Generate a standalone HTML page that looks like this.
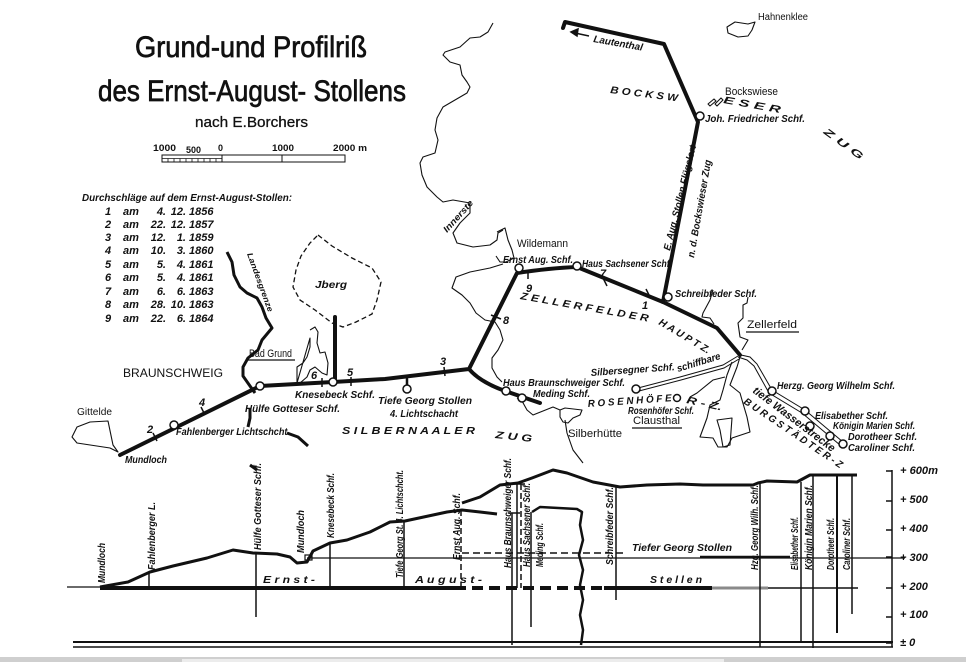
<!DOCTYPE html>
<html><head><meta charset="utf-8"><style>
html,body{margin:0;padding:0;background:#fff;}
svg{display:block;}
text{font-family:"Liberation Sans",sans-serif;fill:#111;}
.i{font-style:italic;font-weight:bold;font-size:10px;}
.u{font-size:11px;}
.t{font-size:30px;stroke:#111;stroke-width:0.7px;}
.l{font-style:italic;font-weight:bold;font-size:11px;}
</style></head><body>
<svg width="966" height="662" viewBox="0 0 966 662" xmlns="http://www.w3.org/2000/svg">
<rect width="966" height="662" fill="#fff"/>
<rect x="0" y="657" width="966" height="5" fill="#cfcfcf"/>
<rect x="182" y="659" width="542" height="3" fill="#ececec"/>

<!-- Title -->
<text class="t" x="135" y="57" textLength="232" lengthAdjust="spacingAndGlyphs">Grund-und Profilriß</text>
<text class="t" x="98" y="101" textLength="308" lengthAdjust="spacingAndGlyphs">des Ernst-August- Stollens</text>
<text x="195" y="127" font-size="15" stroke="#111" stroke-width="0.3" textLength="113" lengthAdjust="spacingAndGlyphs">nach E.Borchers</text>

<!-- scale -->
<g font-size="9" font-weight="bold">
<text x="153" y="151" textLength="23" lengthAdjust="spacingAndGlyphs">1000</text>
<text x="186" y="153" textLength="15" lengthAdjust="spacingAndGlyphs">500</text>
<text x="218" y="151">0</text>
<text x="272" y="151" textLength="22" lengthAdjust="spacingAndGlyphs">1000</text>
<text x="333" y="151" textLength="34" lengthAdjust="spacingAndGlyphs">2000 m</text>
</g>
<g stroke="#111" fill="none">
<rect x="162" y="155" width="183" height="7" stroke-width="1"/>
<line x1="222" y1="155" x2="222" y2="162"/>
<line x1="282" y1="155" x2="282" y2="162"/>
<line x1="162" y1="158.5" x2="222" y2="158.5" stroke-width="0.8"/>
<path d="M168,158.5V162M174,158.5V162M180,158.5V162M186,158.5V162M192,158.5V162M198,158.5V162M204,158.5V162M210,158.5V162M216,158.5V162" stroke-width="0.8"/>
</g>

<!-- legend -->
<text class="i" x="82" y="201" textLength="210" lengthAdjust="spacingAndGlyphs">Durchschläge auf dem Ernst-August-Stollen:</text>
<g class="l">
<text x="105" y="215">1</text><text x="123" y="215">am</text><text x="166" y="215" text-anchor="end">4.</text><text x="186" y="215" text-anchor="end">12.</text><text x="189" y="215">1856</text>
<text x="105" y="228">2</text><text x="123" y="228">am</text><text x="166" y="228" text-anchor="end">22.</text><text x="186" y="228" text-anchor="end">12.</text><text x="189" y="228">1857</text>
<text x="105" y="241">3</text><text x="123" y="241">am</text><text x="166" y="241" text-anchor="end">12.</text><text x="186" y="241" text-anchor="end">1.</text><text x="189" y="241">1859</text>
<text x="105" y="254">4</text><text x="123" y="254">am</text><text x="166" y="254" text-anchor="end">10.</text><text x="186" y="254" text-anchor="end">3.</text><text x="189" y="254">1860</text>
<text x="105" y="268">5</text><text x="123" y="268">am</text><text x="166" y="268" text-anchor="end">5.</text><text x="186" y="268" text-anchor="end">4.</text><text x="189" y="268">1861</text>
<text x="105" y="281">6</text><text x="123" y="281">am</text><text x="166" y="281" text-anchor="end">5.</text><text x="186" y="281" text-anchor="end">4.</text><text x="189" y="281">1861</text>
<text x="105" y="295">7</text><text x="123" y="295">am</text><text x="166" y="295" text-anchor="end">6.</text><text x="186" y="295" text-anchor="end">6.</text><text x="189" y="295">1863</text>
<text x="105" y="308">8</text><text x="123" y="308">am</text><text x="166" y="308" text-anchor="end">28.</text><text x="186" y="308" text-anchor="end">10.</text><text x="189" y="308">1863</text>
<text x="105" y="322">9</text><text x="123" y="322">am</text><text x="166" y="322" text-anchor="end">22.</text><text x="186" y="322" text-anchor="end">6.</text><text x="189" y="322">1864</text>
</g>

<!-- ===== MAP ===== -->
<g fill="none" stroke="#111" stroke-width="1.1" stroke-linejoin="round">
<path d="M72,437 L77,427 L90,422 L108,421 L113,445 L118,452 L110,448 L77,443 Z"/>
<path d="M727,27 L735,22 L748,24 L755,22 L752,30 L748,36 L738,37 L728,33 Z"/>
<path d="M310,330 L315,327 L318,332 L317,343 L320,353 L325,352 L328,363 L327,375 L322,373 L315,367 L310,370 L307,377 L300,383 M297,383 L297,367 L303,363 L307,357 L310,347 L310,338 Z"/>
<path d="M493,23 L488,32 L480,37 L470,38 L460,47 L445,52 L443,55 L450,62 L460,65 L462,75 L467,82 L470,87 L467,93 L455,100 L443,107 L437,118 L435,130 L438,140 L435,153 L423,157 L420,163 L422,175 L427,187 L437,197 L443,202 L453,200 L470,203 L470,213 L460,223 L453,233 L457,243 L473,247 L490,245 L497,240 L498,233 L503,230"/>
<path d="M497,232 L505,228 L508,240 L512,250 L514,258 L506,262 L500,262 L496,256"/>
<path d="M503,264 L490,268 L470,272 L456,277 L452,288 L462,295 L470,303 L476,313 L485,320 L495,322 L500,330 L503,340 L498,350 L492,358 L492,368 L497,377 L502,382"/>
<path d="M517,398 L522,401 L527,410 L533,415 L553,407 L560,410"/>
<path d="M560,410 L565,408 L582,410 L580,415 L573,418 L568,423 L563,422 L560,417 Z"/>
<path d="M565,420 L567,433 L573,450 L583,463"/>
<path d="M713,290 L710,300 L703,313 L702,317 L710,318 L714,324"/>
<path d="M748,297 L747,303 L743,305 L743,318 L738,323 L740,337 L748,340 L742,350"/>
<path d="M740,357 L737,367 L730,385 L740,393 L742,400 L747,417 L750,432 L732,438 L727,447 L718,447 L713,438 L700,437 L707,418 L710,405 L720,400 L723,390 L727,375 L732,362"/>
<path d="M717,420 L732,418 L730,445 L723,447 L720,430 Z"/>
<path d="M725,377 L713,380 L697,393 L690,397"/>
<path d="M708,104 L714,99 L716,101 L710,106 Z M715,104 L721,98 L723,100 L717,106 Z"/>
</g>

<path d="M318,235 L332,246 L352,258 L372,268 L381,282 L377,300 L372,314 L356,322 L343,327 L332,323 L315,310 L300,300 L293,287 L296,270 L301,256 L310,243 Z" fill="none" stroke="#111" stroke-width="1.3" stroke-dasharray="5,3"/>

<g fill="none" stroke="#111" stroke-width="3" stroke-linejoin="round">
<path d="M227,252 L232,262 L234,275 L240,287 L247,293 L257,298 L262,307 L266,318 L272,328 L262,340 L258,350 L248,358 L243,367 L243,376 L250,386 L255,393"/>
<path d="M250,408 L250,418 L248,427"/>
<path d="M287,433 L298,437 L308,446"/>
<path d="M250,465 L257,470"/>
</g>

<g fill="none" stroke="#111" stroke-width="1">
<path d="M638,388 L680,377 L723,365 L738,356"/>
<path d="M639,391 L681,380 L724,368 L739,359"/>
<path d="M741,355 L750,357 L757,364 L772,390 L805,410 L843,442"/>
<path d="M738,357 L747,360 L754,366 L769,393 L802,413 L840,445"/>
</g>

<g fill="none" stroke="#111" stroke-width="4" stroke-linejoin="round" stroke-linecap="round">
<path d="M120,455 L260,386 L333,382 L385,379 L469,369 L517,273 Q550,268 577,267 L663,302 L717,328 L740,355"/>
<path d="M663,302 L698,122 L664,44 L565,22 L563,28"/>
<path d="M469,369 Q480,382 505,391 L540,403"/>
<path d="M335,317 L335,382"/>
<path d="M407,379 L407,385" stroke-width="2.5"/>
</g>
<g stroke="#111" stroke-width="1.5">
<line x1="153" y1="433" x2="157" y2="441"/>
<line x1="201" y1="407" x2="205" y2="415"/>
<line x1="322" y1="378" x2="322" y2="387"/>
<line x1="351" y1="377" x2="351" y2="386"/>
<line x1="444" y1="367" x2="445" y2="376"/>
<line x1="491" y1="315" x2="501" y2="319"/>
<line x1="528" y1="270" x2="528" y2="279"/>
<line x1="603" y1="278" x2="607" y2="286"/>
<line x1="646" y1="289" x2="650" y2="297"/>
</g>
<g class="l">
<text x="147" y="433">2</text><text x="199" y="406">4</text><text x="311" y="379">6</text><text x="347" y="376">5</text>
<text x="440" y="365">3</text><text x="503" y="324">8</text><text x="526" y="292">9</text><text x="600" y="277">7</text><text x="642" y="309">1</text>
</g>
<g fill="#fff" stroke="#111" stroke-width="1.5">
<circle cx="174" cy="425" r="4"/><circle cx="260" cy="386" r="4"/><circle cx="333" cy="382" r="4"/>
<circle cx="407" cy="389" r="4"/><circle cx="519" cy="268" r="4"/><circle cx="577" cy="266" r="4"/>
<circle cx="668" cy="297" r="4"/><circle cx="700" cy="116" r="4"/><circle cx="506" cy="391" r="4"/>
<circle cx="522" cy="398" r="4"/><circle cx="636" cy="389" r="4"/><circle cx="677" cy="398" r="3.5"/>
<circle cx="772" cy="391" r="4"/><circle cx="805" cy="411" r="4"/><circle cx="810" cy="426" r="4"/>
<circle cx="830" cy="436" r="4"/><circle cx="843" cy="444" r="4"/>
</g>

<g class="u">
<text x="123" y="377" font-size="12" textLength="100" lengthAdjust="spacingAndGlyphs">BRAUNSCHWEIG</text>
<text x="249" y="357" textLength="43" lengthAdjust="spacingAndGlyphs">Bad Grund</text>
<text x="77" y="415" textLength="35" lengthAdjust="spacingAndGlyphs" font-size="10">Gittelde</text>
<text x="517" y="247" textLength="51" lengthAdjust="spacingAndGlyphs">Wildemann</text>
<text x="568" y="437" textLength="54" lengthAdjust="spacingAndGlyphs">Silberhütte</text>
<text x="747" y="328" textLength="50" lengthAdjust="spacingAndGlyphs">Zellerfeld</text>
<text x="633" y="424" textLength="47" lengthAdjust="spacingAndGlyphs">Clausthal</text>
<text x="725" y="95" textLength="53" lengthAdjust="spacingAndGlyphs">Bockswiese</text>
<text x="758" y="20" textLength="50" lengthAdjust="spacingAndGlyphs" font-size="10">Hahnenklee</text>
</g>
<g stroke="#111" stroke-width="1.2">
<line x1="247" y1="360" x2="295" y2="360"/>
<line x1="746" y1="332" x2="799" y2="332"/>
<line x1="632" y1="428" x2="682" y2="428"/>
</g>

<g class="i">
<text x="125" y="463" textLength="42" lengthAdjust="spacingAndGlyphs">Mundloch</text>
<text x="176" y="435" textLength="114" lengthAdjust="spacingAndGlyphs">Fahlenberger Lichtschcht.</text>
<text x="245" y="412" textLength="95" lengthAdjust="spacingAndGlyphs">Hülfe Gotteser Schf.</text>
<text x="295" y="398" textLength="80" lengthAdjust="spacingAndGlyphs">Knesebeck Schf.</text>
<text x="315" y="288" textLength="32" lengthAdjust="spacingAndGlyphs">Jberg</text>
<text x="378" y="404" textLength="94" lengthAdjust="spacingAndGlyphs">Tiefe Georg Stollen</text>
<text x="390" y="417" textLength="68" lengthAdjust="spacingAndGlyphs">4. Lichtschacht</text>
<text x="342" y="434" textLength="133" lengthAdjust="spacingAndGlyphs">S I L B E R N A A L E R</text>
<text x="495" y="438" textLength="37" lengthAdjust="spacingAndGlyphs" transform="rotate(6 495 438)">Z U G</text>
<text x="503" y="386" textLength="122" lengthAdjust="spacingAndGlyphs">Haus Braunschweiger Schf.</text>
<text x="533" y="397" textLength="57" lengthAdjust="spacingAndGlyphs">Meding Schf.</text>
<text x="503" y="263" textLength="70" lengthAdjust="spacingAndGlyphs">Ernst Aug. Schf.</text>
<text x="582" y="267" textLength="90" lengthAdjust="spacingAndGlyphs">Haus Sachsener Schf.</text>
<text x="675" y="297" textLength="82" lengthAdjust="spacingAndGlyphs">Schreibfeder Schf.</text>
<text x="705" y="122" textLength="100" lengthAdjust="spacingAndGlyphs">Joh. Friedricher Schf.</text>
<text x="591" y="376" textLength="84" lengthAdjust="spacingAndGlyphs" transform="rotate(-4 591 376)">Silbersegner Schf.</text>
<text x="678" y="372" textLength="45" lengthAdjust="spacingAndGlyphs" transform="rotate(-17 678 372)">schiffbare</text>
<text x="628" y="414" textLength="66" lengthAdjust="spacingAndGlyphs">Rosenhöfer Schf.</text>
<text x="588" y="407" textLength="84" lengthAdjust="spacingAndGlyphs" transform="rotate(-4 588 407)">R O S E N H Ö F E</text>
<text x="686" y="403" textLength="36" lengthAdjust="spacingAndGlyphs" transform="rotate(12 686 403)">R - Z.</text>
<text x="777" y="389" textLength="118" lengthAdjust="spacingAndGlyphs">Herzg. Georg Wilhelm Schf.</text>
<text x="815" y="419" textLength="73" lengthAdjust="spacingAndGlyphs">Elisabether Schf.</text>
<text x="833" y="429" textLength="82" lengthAdjust="spacingAndGlyphs">Königin Marien Schf.</text>
<text x="848" y="440" textLength="69" lengthAdjust="spacingAndGlyphs">Dorotheer Schf.</text>
<text x="848" y="451" textLength="67" lengthAdjust="spacingAndGlyphs">Caroliner Schf.</text>
<text x="752" y="392" font-size="11" textLength="100" lengthAdjust="spacingAndGlyphs" transform="rotate(37 752 392)">tiefe Wasserstrecke</text>
<text x="743" y="403" textLength="117" lengthAdjust="spacingAndGlyphs" transform="rotate(34 743 403)">B U R G S T Ä D T E R - Z</text>
<text x="520" y="299" textLength="130" lengthAdjust="spacingAndGlyphs" transform="rotate(10 520 299)">Z E L L E R F E L D E R</text>
<text x="658" y="324" textLength="58" lengthAdjust="spacingAndGlyphs" transform="rotate(31 658 324)">H A U P T Z.</text>
<text x="610" y="93" textLength="68" lengthAdjust="spacingAndGlyphs" transform="rotate(7 610 93)">B O C K S W</text>
<text x="723" y="103" textLength="58" lengthAdjust="spacingAndGlyphs" transform="rotate(10 723 103)">E S E R</text>
<text x="823" y="133" textLength="46" lengthAdjust="spacingAndGlyphs" transform="rotate(36 823 133)">Z U G</text>
<text x="593" y="42" textLength="50" lengthAdjust="spacingAndGlyphs" transform="rotate(10 593 42)">Lautenthal</text>
<text x="670" y="251" textLength="108" lengthAdjust="spacingAndGlyphs" transform="rotate(-76 670 251)">E. Aug. Stollen Flügelort</text>
<text x="694" y="258" textLength="99" lengthAdjust="spacingAndGlyphs" transform="rotate(-80 694 258)">n. d. Bockswieser Zug</text>
<text x="447" y="233" font-size="9" textLength="40" lengthAdjust="spacingAndGlyphs" transform="rotate(-48 447 233)">Innerste</text>
<text x="247" y="254" font-size="8" textLength="62" lengthAdjust="spacingAndGlyphs" transform="rotate(70 247 254)">Landesgrenze</text>
</g>
<g stroke="#111" stroke-width="1.5" fill="#111">
<line x1="575" y1="33" x2="589" y2="36"/>
<path d="M571,32 L578,29 L577,36 Z"/>
</g>

<!-- ===== PROFILE ===== -->
<g stroke="#111" fill="none">
<line x1="73" y1="642" x2="893" y2="642" stroke-width="2"/>
<line x1="73" y1="647" x2="893" y2="647" stroke-width="1.5"/>
<line x1="892" y1="470" x2="892" y2="647" stroke-width="1.5"/>
<path d="M886,471H892M886,501H892M886,530H892M886,557H892M886,588H892M886,617H892M886,643H892" stroke-width="1.5"/>
<line x1="307" y1="558" x2="905" y2="558" stroke-width="1.2"/>
<line x1="700" y1="557" x2="790" y2="557" stroke-width="2.5"/>
<line x1="462" y1="553" x2="625" y2="553" stroke-width="1.5" stroke-dasharray="7,4"/>
<rect x="305" y="555" width="7" height="5" stroke-width="1.2"/>
<line x1="67" y1="587" x2="100" y2="587" stroke-width="1.2"/>
<line x1="100" y1="588" x2="466" y2="588" stroke-width="4"/>
<line x1="472" y1="588" x2="604" y2="588" stroke-width="4" stroke-dasharray="11,6"/>
<line x1="604" y1="588" x2="712" y2="588" stroke-width="4"/>
<line x1="712" y1="588" x2="768" y2="588" stroke-width="3" stroke="#8a8a8a"/>
<line x1="768" y1="588" x2="858" y2="588" stroke-width="1.5"/>
<path d="M100,587 L128,582 L150,572 L173,566 L207,558 L233,550 L253,553 L277,554 L290,557 L297,563 L307,562 L313,551 L330,543 L347,540 L370,532 L390,522 L405,521 L447,512 L462,510 L480,512 L497,514" stroke-width="3" stroke-linejoin="round"/>
<path d="M462,503 L480,497 L500,485 L518,483 L532,478 L553,470 L567,473 L593,482 L620,487 L647,485 L680,484 L703,485 L753,485 L758,483 L767,481 L797,482 L810,475 L857,475" stroke-width="3" stroke-linejoin="round"/>
<path d="M532,512 L540,507 L577,509 L582,512 L580,525 L583,540 L579,555 L583,570 L580,585 L583,600 L580,615 L583,630 L581,645" stroke-width="2.5" stroke-linejoin="round"/>
<g stroke-width="1.5">
<line x1="149" y1="572" x2="149" y2="588"/>
<line x1="256" y1="553" x2="256" y2="617"/>
<line x1="330" y1="543" x2="330" y2="588"/>
<line x1="404" y1="521" x2="404" y2="588"/>
<line x1="461" y1="510" x2="461" y2="588" stroke-dasharray="6,3"/>
<line x1="512" y1="513" x2="512" y2="645"/>
<line x1="508" y1="513" x2="520" y2="513"/>
<line x1="517" y1="484" x2="517" y2="588"/>
<line x1="521" y1="484" x2="521" y2="588" stroke-dasharray="6,3"/>
<line x1="511" y1="484" x2="525" y2="484"/>
<line x1="531" y1="512" x2="531" y2="627"/>
<line x1="616" y1="485" x2="616" y2="600"/>
<line x1="760" y1="483" x2="760" y2="647"/>
<line x1="801" y1="482" x2="801" y2="643"/>
<line x1="813" y1="475" x2="813" y2="648"/>
<line x1="837" y1="475" x2="837" y2="633" stroke-width="2"/>
<line x1="852" y1="475" x2="852" y2="614"/>
</g>
</g>
<g class="i">
<text transform="translate(105 583) rotate(-90)" textLength="40" lengthAdjust="spacingAndGlyphs">Mundloch</text>
<text transform="translate(155 570) rotate(-90)" textLength="68" lengthAdjust="spacingAndGlyphs">Fahlenberger L.</text>
<text transform="translate(261 550) rotate(-90)" textLength="87" lengthAdjust="spacingAndGlyphs">Hülfe Gotteser Schf.</text>
<text transform="translate(304 553) rotate(-90)" textLength="43" lengthAdjust="spacingAndGlyphs">Mundloch</text>
<text transform="translate(334 538) rotate(-90)" textLength="65" lengthAdjust="spacingAndGlyphs">Knesebeck Schf.</text>
<text transform="translate(403 578) rotate(-90)" textLength="108" lengthAdjust="spacingAndGlyphs">Tiefe Georg St. 4. Lichtschcht.</text>
<text transform="translate(460 560) rotate(-90)" textLength="67" lengthAdjust="spacingAndGlyphs">Ernst Aug. Schf.</text>
<text transform="translate(511 568) rotate(-90)" textLength="110" lengthAdjust="spacingAndGlyphs">Haus Braunschweiger Schf.</text>
<text transform="translate(530 567) rotate(-90)" textLength="84" lengthAdjust="spacingAndGlyphs">Haus Sachsener Schf.</text>
<text transform="translate(543 567) rotate(-90)" textLength="44" lengthAdjust="spacingAndGlyphs">Meding Schf.</text>
<text transform="translate(613 565) rotate(-90)" textLength="78" lengthAdjust="spacingAndGlyphs">Schreibfeder Schf.</text>
<text transform="translate(758 570) rotate(-90)" textLength="85" lengthAdjust="spacingAndGlyphs">Hzg. Georg Wilh. Schf.</text>
<text transform="translate(798 570) rotate(-90)" textLength="53" lengthAdjust="spacingAndGlyphs">Elisabether Schf.</text>
<text transform="translate(812 570) rotate(-90)" textLength="85" lengthAdjust="spacingAndGlyphs">Königin Marien Schf.</text>
<text transform="translate(834 570) rotate(-90)" textLength="52" lengthAdjust="spacingAndGlyphs">Dorotheer Schf.</text>
<text transform="translate(850 570) rotate(-90)" textLength="52" lengthAdjust="spacingAndGlyphs">Caroliner Schf.</text>
<text x="263" y="583" textLength="52" lengthAdjust="spacingAndGlyphs">E r n s t  -</text>
<text x="415" y="583" textLength="67" lengthAdjust="spacingAndGlyphs">A u g u s t  -</text>
<text x="650" y="583" textLength="52" lengthAdjust="spacingAndGlyphs">S t e l l e n</text>
<text x="632" y="551" textLength="100" lengthAdjust="spacingAndGlyphs">Tiefer Georg Stollen</text>
</g>
<g class="l">
<text x="900" y="474" textLength="38" lengthAdjust="spacingAndGlyphs">+ 600m</text>
<text x="900" y="503">+ 500</text>
<text x="900" y="532">+ 400</text>
<text x="900" y="561">+ 300</text>
<text x="900" y="590">+ 200</text>
<text x="900" y="618">+ 100</text>
<text x="900" y="646">± 0</text>
</g>
</svg>
</body></html>
